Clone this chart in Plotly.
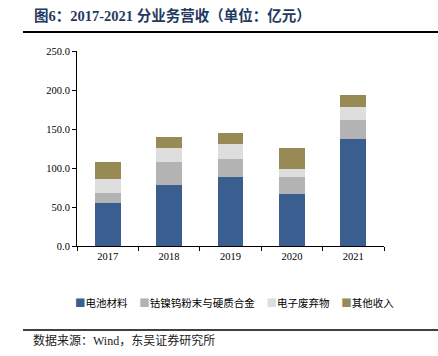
import plotly.graph_objects as go

years = ["2017", "2018", "2019", "2020", "2021"]
battery = [54.7, 78.2, 88.9, 66.2, 136.8]
powder_alloy = [12.8, 29.8, 23.1, 22.7, 24.3]
e_waste = [18.0, 17.2, 18.3, 10.2, 16.7]
other = [22.5, 14.1, 14.2, 26.1, 15.8]

names = ["电池材料", "钴镍钨粉末与硬质合金", "电子废弃物", "其他收入"]
colors = ["#395E8F", "#B3B3B3", "#DEDEDE", "#988A55"]
series = [battery, powder_alloy, e_waste, other]

W, H = 438, 356
# plot area in pixels
PL, PR, PT, PB = 77, 384, 51, 246


def fx(x):
    return x / W


def fy(y):
    return (H - y) / H


fig = go.Figure()
for n, c, v in zip(names, colors, series):
    fig.add_trace(go.Bar(x=years, y=v, name=n, marker=dict(color=c, line=dict(width=0)),
                         showlegend=False))

serif = "Liberation Serif, Times New Roman, serif"
fig.update_layout(
    barmode="stack",
    bargap=0.58,
    width=W, height=H,
    margin=dict(l=0, r=0, t=0, b=0, pad=0),
    paper_bgcolor="white", plot_bgcolor="white",
    font=dict(family=serif, size=10, color="#000000"),
    xaxis=dict(type="category", domain=[fx(PL), fx(PR)], automargin=False,
               showline=True, linecolor="#000000", linewidth=1,
               ticks="outside", ticklen=4, tickcolor="#000000", tickson="boundaries",
               tickfont=dict(family=serif, size=10.5), showgrid=False),
    yaxis=dict(range=[0, 250], domain=[fy(PB), fy(PT)], automargin=False,
               dtick=50, tickformat=".1f", showline=True,
               linecolor="#000000", linewidth=1, ticks="outside", ticklen=4,
               tickcolor="#000000", showgrid=False, zeroline=False,
               tickfont=dict(family=serif, size=10.5)),
)

# custom legend
leg = "     ".join(
    f"<span style='color:{c}'>■</span>{n}" for n, c in zip(names, colors)
)
fig.add_annotation(xref="paper", yref="paper", x=fx(234), y=fy(302), xanchor="center",
                   yanchor="middle", showarrow=False, text=leg,
                   font=dict(family="Noto Sans CJK SC", size=10.5, color="#000000"))

# title
fig.add_annotation(xref="paper", yref="paper", x=fx(32), xanchor="left",
                   y=fy(15), yanchor="middle", showarrow=False,
                   text="<b>图6：2017-2021 分业务营收（单位：亿元）</b>",
                   font=dict(family="Liberation Serif, Noto Sans CJK SC", size=14.5, color="#1F3A60"))
# source
fig.add_annotation(xref="paper", yref="paper", x=fx(31), xanchor="left",
                   y=fy(340), yanchor="middle", showarrow=False,
                   text="数据来源：Wind，东吴证券研究所",
                   font=dict(family="Liberation Serif, Noto Sans CJK SC", size=12, color="#222222"))

# rules
fig.add_shape(type="rect", xref="paper", yref="paper", x0=fx(23), x1=fx(438),
              y0=fy(33), y1=fy(31), layer="above", fillcolor="#000000",
              line=dict(width=0))
fig.add_shape(type="rect", xref="paper", yref="paper", x0=fx(23), x1=fx(438),
              y0=fy(330.75), y1=fy(329.25), layer="above", fillcolor="#000000",
              line=dict(width=0))

fig.write_html("out.html", post_script="document.body.style.margin='0';",
               config={"displayModeBar": False})
